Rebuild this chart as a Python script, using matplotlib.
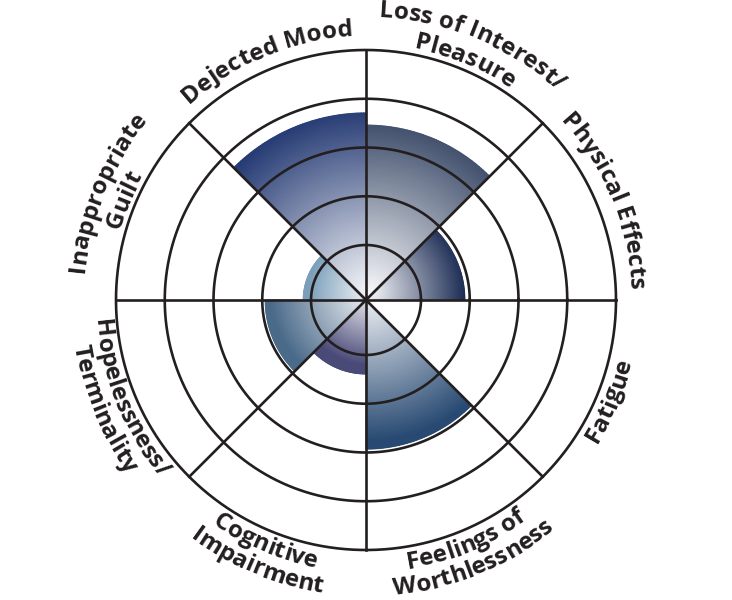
import numpy as np
import matplotlib
matplotlib.use("Agg")
import matplotlib.pyplot as plt
from matplotlib.colors import LinearSegmentedColormap
from matplotlib.font_manager import FontProperties, findfont
from matplotlib.ft2font import FT2Font, LoadFlags

# data
categories = ["Dejected Mood", "Loss of Interest/\nPleasure", "Physical Effects", "Fatigue",
              "Feelings of\nWorthlessness", "Cognitive\nImpairment",
              "Hopelessness/\nTerminality", "Inappropriate\nGuilt"]
mid_angles = [112.5, 67.5, 22.5, -22.5, -67.5, -112.5, -157.5, 157.5]
scores = [3.71, 3.46, 1.90, 0.0, 2.93, 1.39, 1.94, 1.16]
edge_colors = ["#223872", "#3b4a68", "#15264f", "#15264f",
               "#284a72", "#4a4a78", "#4a6a8a", "#7b9fba"]
rings = [1, 2, 3, 4, 5]

W, H = 732, 600
CX, CY = 366, 300      # centre in pixels (from bottom)
ROUT = 250             # outer ring radius in pixels
RMIN = -0.128
ink = "#231f20"
hx, hy = 4, 8          # gradient highlight offset, pixels

fig = plt.figure(figsize=(W / 100, H / 100), dpi=100)
ax = fig.add_axes([(CX - ROUT) / W, (CY - ROUT) / H, 2 * ROUT / W, 2 * ROUT / H], projection="polar")
ax.set_ylim(RMIN, 5)
ax.grid(False)
ax.set_xticks([])
ax.set_yticks([])
ax.spines["polar"].set_visible(False)

px_per_unit = ROUT / (5 - RMIN)

# gradient bars
for mid, val, col in zip(mid_angles, scores, edge_colors):
    if val <= 0:
        continue
    th = np.radians(np.linspace(mid - 22.5, mid + 22.5, 60))
    rr = np.linspace(RMIN, val, 60)
    T, R = np.meshgrid(th, rr)
    rpx = (R - RMIN) * px_per_unit
    d = np.hypot(rpx * np.cos(T) - hx, rpx * np.sin(T) - hy)
    Z = np.clip(d / ((val - RMIN) * px_per_unit), 0, 1)
    cmap = LinearSegmentedColormap.from_list("g", ["#f7f8fa", col])
    ax.pcolormesh(T, R, Z, cmap=cmap, vmin=0, vmax=1, shading="gouraud", zorder=1)

# rings and spokes
full = np.linspace(0, 2 * np.pi, 400)
for r in rings:
    ax.plot(full, np.full_like(full, r), color=ink, lw=1.9, zorder=3, clip_on=False)
for a in range(0, 360, 45):
    ax.plot([np.radians(a)] * 2, [RMIN, 5], color=ink, lw=1.9, zorder=3, clip_on=False)

# curved labels
FS = 17.5
fp = FontProperties(family="Open Sans", weight="bold", size=FS)
ft = FT2Font(findfont(fp))
ft.set_size(FS, 100)


def advance(c):
    g = ft.load_char(ord(c), flags=LoadFlags.NO_HINTING)
    return g.linearHoriAdvance / 65536


def arc_line(s, mid, R, upper):
    adv = [advance(c) for c in s]
    pos = np.cumsum(adv) - np.array(adv) / 2 - sum(adv) / 2
    for c, p in zip(s, pos):
        if upper:
            ang = np.radians(mid) - p / R
            rot = np.degrees(ang) - 90
        else:
            ang = np.radians(mid) + p / R
            rot = np.degrees(ang) + 90
        x = (CX + R * np.cos(ang)) / W
        y = (CY + R * np.sin(ang)) / H
        fig.text(x, y, c, fontproperties=fp, color=ink, rotation=rot,
                 rotation_mode="anchor", ha="center", va="baseline")


for label, mid in zip(categories, mid_angles):
    lines = label.split("\n")
    upper = np.sin(np.radians(mid)) > 0
    if upper:
        radii = [283, 256] if len(lines) == 2 else [264]
    else:
        radii = [272, 296] if len(lines) == 2 else [272]
    for s, R in zip(lines, radii):
        arc_line(s, mid, R, upper)

fig.savefig("out.png", dpi=100)
